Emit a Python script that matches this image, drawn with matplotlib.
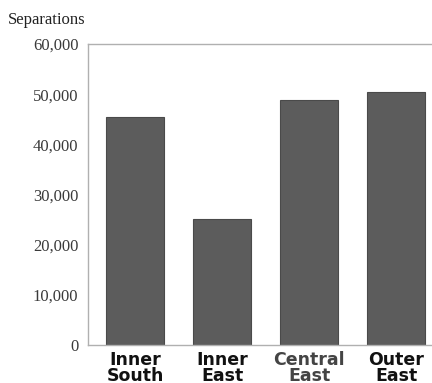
import matplotlib
matplotlib.use('Agg')
import matplotlib.pyplot as plt
from matplotlib.ticker import FuncFormatter

# Data
regions = ['Inner\nSouth', 'Inner\nEast', 'Central\nEast', 'Outer\nEast']
separations = [45400, 25200, 48800, 50400]
label_colors = ['#111111', '#111111', '#444444', '#111111']

fig = plt.figure(figsize=(4.32, 3.83), dpi=100)
ax = fig.add_axes([0.204, 0.099, 0.796, 0.786])

x = range(len(regions))
ax.bar(x, separations, width=0.67, color='#5c5c5c', edgecolor='#4a4a4a', linewidth=0.8)

ax.set_xlim(-0.54, 3.41)
ax.set_ylim(0, 60000)
ax.set_yticks(range(0, 60001, 10000))
ax.yaxis.set_major_formatter(FuncFormatter(lambda v, p: f'{int(v):,}'))
ax.tick_params(axis='y', length=0, pad=7, labelsize=12, labelcolor='#3a3a3a')
for lbl in ax.get_yticklabels():
    lbl.set_family('Liberation Serif')

ax.set_xticks(list(x))
ax.set_xticklabels(regions)
ax.tick_params(axis='x', length=0, pad=4)
for lbl, c in zip(ax.get_xticklabels(), label_colors):
    lbl.set_family('DejaVu Sans')
    lbl.set_fontweight('heavy')
    lbl.set_fontsize(12.5)
    lbl.set_color(c)
    lbl.set_linespacing(0.85)

for side in ['left', 'top', 'bottom']:
    ax.spines[side].set_color('#b0b0b0')
    ax.spines[side].set_linewidth(1.0)
ax.spines['right'].set_visible(False)

fig.text(0.018, 0.937, 'Separations', family='Liberation Serif', fontsize=12,
         color='#222222', ha='left', va='baseline')

fig.savefig('out.png', dpi=100)
